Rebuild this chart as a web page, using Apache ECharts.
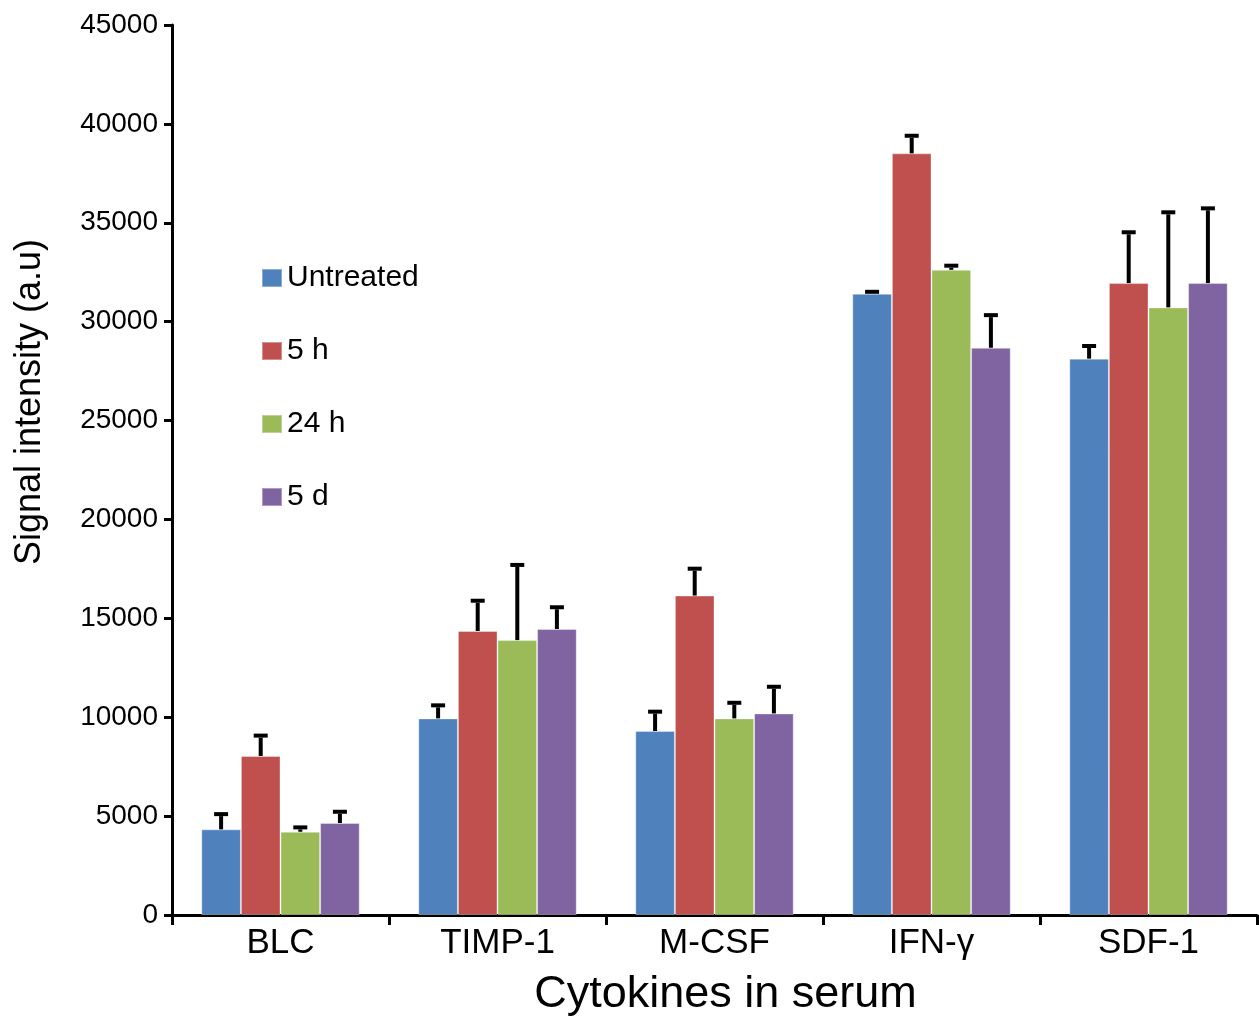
<!DOCTYPE html>
<html>
<head>
<meta charset="utf-8">
<script src="https://cdn.jsdelivr.net/npm/echarts@6/dist/echarts.min.js"></script>
<style>html,body{margin:0;padding:0;background:#fff}#c{width:1259px;height:1017px}</style>
</head>
<body>
<div id="c"></div>
<script>
const categories = ['BLC', 'TIMP-1', 'M-CSF', 'IFN-γ', 'SDF-1'];
const seriesNames = ['Untreated', '5 h', '24 h', '5 d'];
const untreated = [4330, 9940, 9300, 31410, 28130];
const h5 = [8040, 14360, 16150, 38510, 31950];
const h24 = [4210, 13900, 9940, 32620, 30720];
const d5 = [4650, 14460, 10190, 28680, 31950];
const errUntreated = [770, 660, 980, 100, 640];
const errH5 = [1030, 1530, 1360, 890, 2570];
const errH24 = [220, 3800, 790, 210, 4810];
const errD5 = [570, 1100, 1350, 1650, 3780];
const yTicks = [0, 5000, 10000, 15000, 20000, 25000, 30000, 35000, 40000, 45000];

const colors = ['#4F81BD', '#C0504D', '#9BBB59', '#8064A2'];
const values = [untreated, h5, h24, d5];
const errors = [errUntreated, errH5, errH24, errD5];
const GAP = 0.27;
const FONT = "'Liberation Sans', Arial, sans-serif";

const chart = echarts.init(document.getElementById('c'));

const barSeries = values.map((v, i) => ({
  name: seriesNames[i],
  type: 'bar',
  data: v,
  barGap: '0%',
  barCategoryGap: (GAP * 100) + '%',
  itemStyle: { color: colors[i], borderColor: 'rgba(255,255,255,0.35)', borderWidth: 1 },
  z: 2
}));

const errSeries = values.map((v, s) => ({
  type: 'custom',
  name: seriesNames[s] + ' err',
  data: v.map((val, k) => [k, val, errors[s][k]]),
  z: 5,
  silent: true,
  renderItem: function (params, api) {
    const idx = api.value(0), val = api.value(1), err = api.value(2);
    const band = api.size([1, 0])[0];
    const groupW = band * (1 - GAP);
    const barW = groupW / 4;
    const cx = api.coord([idx, 0])[0] - groupW / 2 + barW * (s + 0.5);
    const top = api.coord([idx, val])[1];
    const cap = api.coord([idx, val + err])[1];
    return {
      type: 'group',
      children: [
        { type: 'line', shape: { x1: cx, y1: top, x2: cx, y2: cap + 2 }, style: { stroke: '#000', lineWidth: 4 } },
        { type: 'line', shape: { x1: cx - 7, y1: cap, x2: cx + 7, y2: cap }, style: { stroke: '#000', lineWidth: 4 } }
      ]
    };
  }
}));

chart.setOption({
  animation: false,
  backgroundColor: '#fff',
  grid: { left: 172, right: 2, top: 25, bottom: 102, containLabel: false, outerBoundsMode: 'none' },
  legend: {
    orient: 'vertical',
    left: 256,
    top: 258,
    data: seriesNames,
    itemWidth: 20,
    itemHeight: 18,
    itemGap: 43,
    icon: 'rect',
    textStyle: { fontFamily: FONT, fontSize: 30, color: '#000', lineHeight: 30, padding: [0, 0, 0, 0] }
  },
  xAxis: {
    type: 'category',
    data: categories,
    name: 'Cytokines in serum',
    nameLocation: 'middle',
    nameGap: 57,
    nameTextStyle: { fontFamily: FONT, fontSize: 45, color: '#000', padding: [0, 0, 0, 22] },
    axisLine: { lineStyle: { color: '#000', width: 3 } },
    axisTick: { show: true, length: 10, lineStyle: { color: '#000', width: 3 } },
    axisLabel: { fontFamily: FONT, fontSize: 35, color: '#000', margin: 11 }
  },
  yAxis: {
    type: 'value',
    min: yTicks[0],
    max: yTicks[yTicks.length - 1],
    interval: yTicks[1] - yTicks[0],
    splitLine: { show: false },
    axisLine: { show: true, lineStyle: { color: '#000', width: 3 } },
    axisTick: { show: true, length: 8, lineStyle: { color: '#000', width: 3 } },
    axisLabel: { fontFamily: FONT, fontSize: 28, color: '#000', margin: 14, formatter: (v) => String(v) }
  },
  graphic: [
    {
      type: 'text',
      x: 30,
      y: 402,
      rotation: Math.PI / 2,
      style: {
        text: 'Signal intensity (a.u)',
        font: "36px 'Liberation Sans', Arial, sans-serif",
        fill: '#000',
        textAlign: 'center',
        textVerticalAlign: 'middle'
      }
    }
  ],
  series: barSeries.concat(errSeries)
});
</script>
</body>
</html>
